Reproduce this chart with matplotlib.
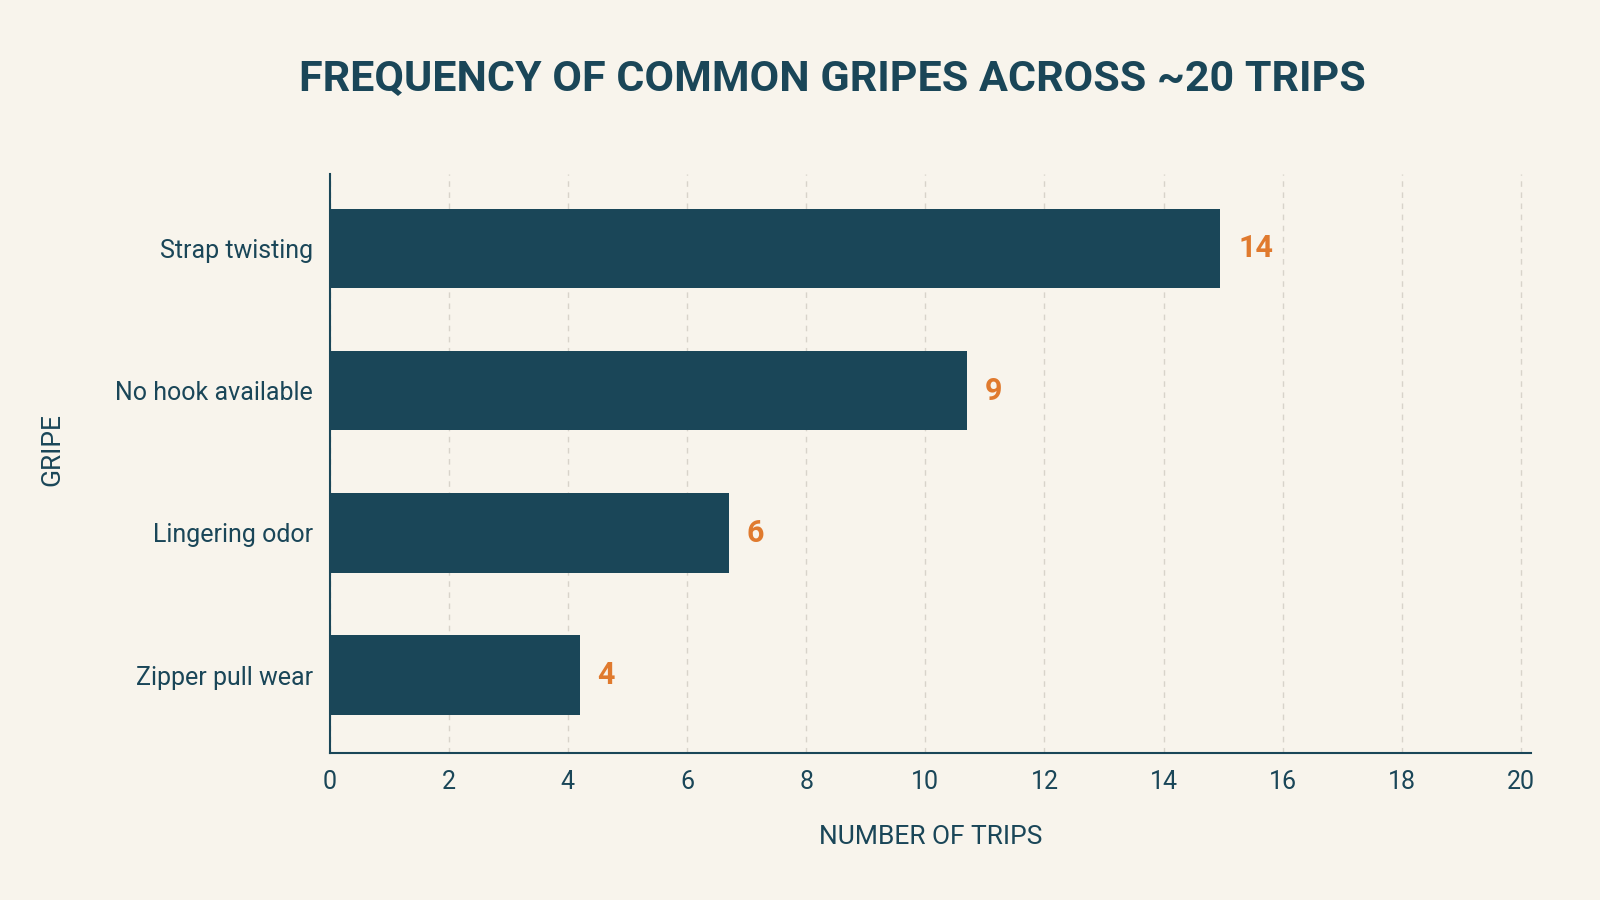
import matplotlib
matplotlib.use("Agg")
import matplotlib.pyplot as plt

gripes = ["Strap twisting", "No hook available", "Lingering odor", "Zipper pull wear"]
bar_lengths = [14.95, 10.7, 6.7, 4.2]  # as drawn against the axis
labels = ["14", "9", "6", "4"]
xticks = list(range(0, 21, 2))

BG = "#f8f4ec"
NAVY = "#1a4658"
ORANGE = "#e07a2e"
plt.rcParams["font.family"] = ["Roboto", "DejaVu Sans"]

fig = plt.figure(figsize=(16, 9), dpi=100, facecolor=BG)
ax = fig.add_axes([0.206, 0.163, 0.751, 0.644], facecolor=BG)

ys = range(len(gripes))
ax.barh(ys, bar_lengths, height=0.56, color=NAVY, zorder=3)
for y, w, t in zip(ys, bar_lengths, labels):
    ax.text(w + 0.3, y, t, va="center", ha="left", color=ORANGE, fontsize=22, fontweight="bold")

ax.set_xlim(0, 20.17)
ax.set_ylim(3.55, -0.525)
ax.set_xticks(xticks)
ax.set_yticks(list(ys))
ax.set_yticklabels(gripes)
ax.tick_params(axis="both", length=0, colors=NAVY, labelsize=18, pad=12)
ax.grid(axis="x", linestyle=(0, (4, 4)), color="#d8d3ca", linewidth=1, zorder=0)
for s in ("top", "right"):
    ax.spines[s].set_visible(False)
for s in ("left", "bottom"):
    ax.spines[s].set_color(NAVY)
    ax.spines[s].set_linewidth(1.5)

ax.set_xlabel("NUMBER OF TRIPS", color=NAVY, fontsize=19, labelpad=22)
fig.text(0.033, 0.5, "GRIPE", rotation=90, va="center", ha="center", color=NAVY, fontsize=19)
fig.suptitle("FREQUENCY OF COMMON GRIPES ACROSS ~20 TRIPS", y=0.935, x=0.52,
             color=NAVY, fontsize=31, fontweight="bold")

fig.savefig("out.png", facecolor=BG)
